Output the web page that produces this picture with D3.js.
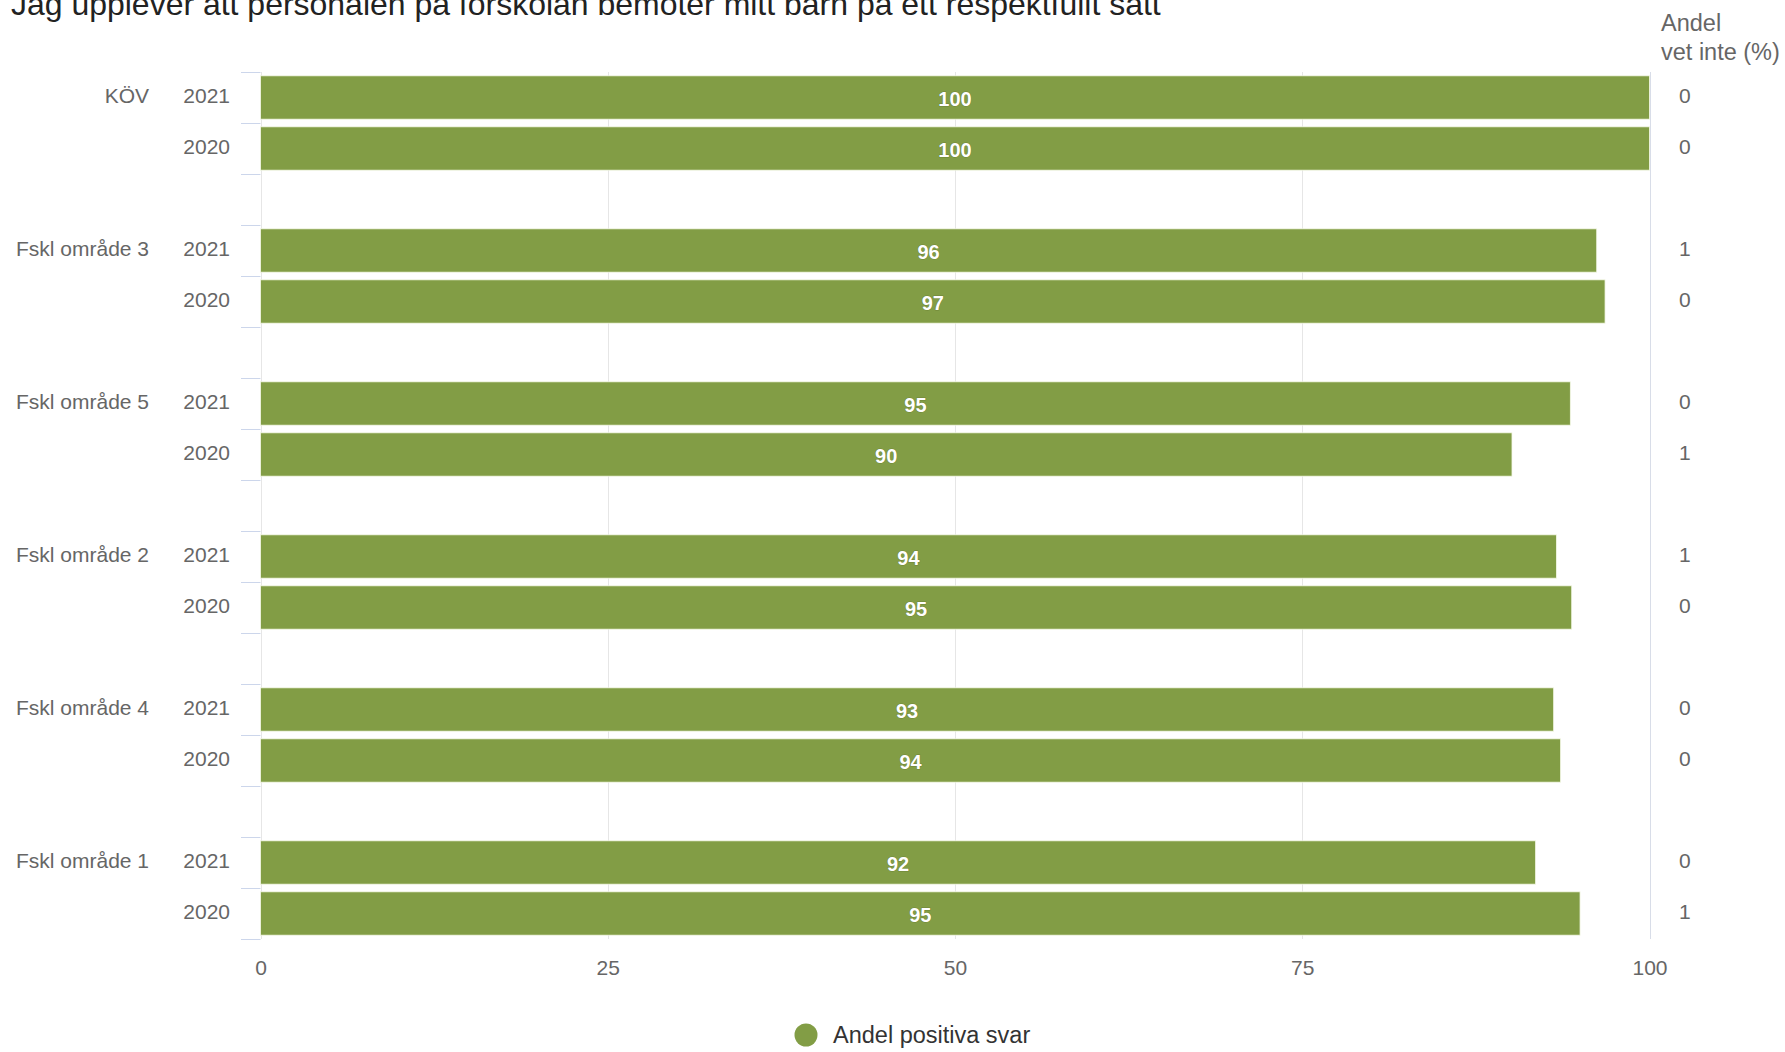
<!DOCTYPE html>
<html>
<head>
<meta charset="utf-8">
<script src="https://cdn.jsdelivr.net/npm/d3@7/dist/d3.min.js"></script>
<style>
  html, body { margin: 0; padding: 0; background: #ffffff; }
  svg { display: block; font-family: "Liberation Sans", Arial, Helvetica, sans-serif; }
</style>
</head>
<body>
<svg id="chart" width="1785" height="1052"></svg>
<script>
const title = "Jag upplever att personalen på förskolan bemöter mitt barn på ett respektfullt sätt";
const groups = ["KÖV", "Fskl område 3", "Fskl område 5", "Fskl område 2", "Fskl område 4", "Fskl område 1"];
const years = ["2021", "2020"];
const positive2021 = [100, 96.2, 94.3, 93.3, 93.1, 91.8];
const positive2020 = [100, 96.8, 90.1, 94.4, 93.6, 95.0];
const labels2021 = [100, 96, 95, 94, 93, 92];
const labels2020 = [100, 97, 90, 95, 94, 95];
const vetInte2021 = [0, 1, 0, 1, 0, 0];
const vetInte2020 = [0, 0, 1, 0, 0, 1];
const xTicks = [0, 25, 50, 75, 100];
const rightHeader = ["Andel", "vet inte (%)"];
const legendLabel = "Andel positiva svar";

const barColor = "#829d45";
const svg = d3.select("#chart");

// Build rows (with blank spacer categories between groups)
const rows = [];
const slots = [];
groups.forEach((g, i) => {
  if (i > 0) slots.push("gap-" + i);
  years.forEach((yr, j) => {
    const key = "r-" + i + "-" + yr;
    slots.push(key);
    rows.push({
      key, group: g, year: yr, first: j === 0,
      value: j === 0 ? positive2021[i] : positive2020[i],
      label: j === 0 ? labels2021[i] : labels2020[i],
      vet: j === 0 ? vetInte2021[i] : vetInte2020[i]
    });
  });
});

const plotTop = 72, plotBottom = 939, plotLeft = 260.5, plotRight = 1649.5;
const x = d3.scaleLinear().domain([0, 100]).range([plotLeft, plotRight]);
const y = d3.scaleBand().domain(slots).range([plotTop, plotBottom]).paddingInner(0.15).paddingOuter(0.075);
const cy = d => y(d.key) + y.bandwidth() / 2;

// Title (cut at the top edge as in the reference)
const t = svg.append("text").attr("x", 11).attr("y", 15)
  .attr("fill", "#222").attr("font-size", 26).text(title);
const tl = t.node().getComputedTextLength();
t.attr("font-size", 26 * 1150 / tl);

// Vertical grid lines
svg.append("g").selectAll("line").data(xTicks).join("line")
  .attr("x1", d => Math.round(x(d)) + 0.5).attr("x2", d => Math.round(x(d)) + 0.5)
  .attr("y1", plotTop).attr("y2", plotBottom)
  .attr("stroke", d => d === 100 ? "#d8dde8" : "#e6e6e6").attr("stroke-width", 1);

// Left category tick marks at slot boundaries
const step = y.step();
const bounds = d3.range(slots.length + 1).map(k => plotTop + k * step);
svg.append("g").selectAll("line").data(bounds).join("line")
  .attr("x1", 241).attr("x2", plotLeft)
  .attr("y1", d => Math.round(d) + 0.5).attr("y2", d => Math.round(d) + 0.5)
  .attr("stroke", "#ccd6eb").attr("stroke-width", 1);

// Bottom axis labels
const xAxis = d3.axisBottom(x).tickValues(xTicks).tickSize(0).tickPadding(0);
const gx = svg.append("g").attr("transform", `translate(0, 968)`).call(xAxis);
gx.select(".domain").remove();
gx.selectAll("text").attr("font-size", 21).attr("fill", "#666")
  .attr("font-family", "Liberation Sans, Arial, sans-serif").attr("dy", "0.35em").attr("y", 0);

// Bars
svg.append("g").selectAll("rect").data(rows).join("rect")
  .attr("x", x(0)).attr("y", d => y(d.key))
  .attr("width", d => x(d.value) - x(0)).attr("height", y.bandwidth())
  .attr("fill", barColor).attr("stroke", "#f4f8e8").attr("stroke-width", 0.8);

// Bar labels
svg.append("g").selectAll("text").data(rows).join("text")
  .attr("x", d => (x(0) + x(d.value)) / 2).attr("y", d => cy(d) + 1)
  .attr("dy", "0.35em").attr("text-anchor", "middle")
  .attr("font-size", 20).attr("font-weight", "bold").attr("fill", "#ffffff")
  .attr("stroke", "rgba(60,70,20,0.3)").attr("stroke-width", 1).attr("paint-order", "stroke")
  .text(d => d.label);

// Year labels
svg.append("g").selectAll("text").data(rows).join("text")
  .attr("x", 230).attr("y", d => cy(d) - 2)
  .attr("dy", "0.35em").attr("text-anchor", "end")
  .attr("font-size", 21).attr("fill", "#666").text(d => d.year);

// Group labels
svg.append("g").selectAll("text").data(rows.filter(d => d.first)).join("text")
  .attr("x", 149).attr("y", d => cy(d) - 2)
  .attr("dy", "0.35em").attr("text-anchor", "end")
  .attr("font-size", 21).attr("fill", "#666").text(d => d.group);

// Right column: vet inte
svg.append("g").selectAll("text").data(rightHeader).join("text")
  .attr("x", 1661).attr("y", (d, i) => 31 + i * 29)
  .attr("font-size", 23.5).attr("fill", "#666").text(d => d);
svg.append("g").selectAll("text").data(rows).join("text")
  .attr("x", 1679).attr("y", d => cy(d) - 2)
  .attr("dy", "0.35em").attr("font-size", 21).attr("fill", "#666").text(d => d.vet);

// Legend
const lg = svg.append("g");
lg.append("circle").attr("cx", 806).attr("cy", 1035).attr("r", 11.5).attr("fill", barColor);
lg.append("text").attr("x", 833).attr("y", 1035).attr("dy", "0.35em")
  .attr("font-size", 23.5).attr("fill", "#333").text(legendLabel);
</script>
</body>
</html>
